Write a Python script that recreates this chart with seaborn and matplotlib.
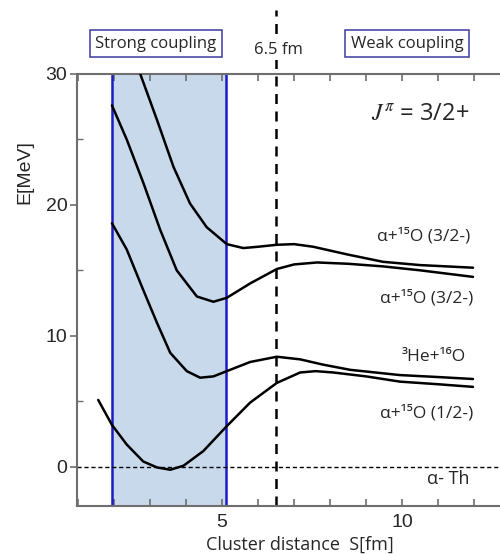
import numpy as np
import pandas as pd
import matplotlib
matplotlib.use("Agg")
import matplotlib.pyplot as plt
import matplotlib.ticker as mticker
import seaborn as sns

# ── data ─────────────────────────────────────────────────────────────────────
s_top = [2.72, 3.19, 3.65, 4.11, 4.57, 5.13, 5.59, 6.0, 6.52, 7.0, 7.53, 8.5, 9.47, 10.5, 11.97]
e_top = [30.05, 26.5, 22.9, 20.1, 18.3, 17.0, 16.7, 16.8, 16.95, 17.0, 16.8, 16.2, 15.65, 15.4, 15.2]

s_mid = [1.94, 2.35, 2.81, 3.28, 3.74, 4.30, 4.76, 5.13, 5.78, 6.52, 7.0, 7.64, 8.5, 9.47, 10.5, 11.97]
e_mid = [27.6, 25.0, 21.7, 18.1, 15.0, 13.0, 12.6, 12.9, 14.0, 15.1, 15.45, 15.6, 15.5, 15.3, 15.0, 14.5]

s_he = [1.94, 2.35, 2.81, 3.19, 3.56, 4.02, 4.39, 4.76, 5.13, 5.78, 6.52, 7.17, 7.8, 8.56, 9.94, 11.0, 11.97]
e_he = [18.6, 16.6, 13.5, 11.0, 8.7, 7.3, 6.8, 6.9, 7.3, 8.0, 8.4, 8.2, 7.8, 7.4, 7.0, 6.85, 6.7]

s_alp = [1.56, 1.94, 2.35, 2.81, 3.19, 3.56, 3.93, 4.48, 5.13, 5.78, 6.52, 7.17, 7.6, 8.08, 9.0, 9.94, 11.0, 11.97]
e_alp = [5.1, 3.2, 1.7, 0.4, -0.05, -0.23, 0.08, 1.2, 3.1, 4.9, 6.4, 7.2, 7.3, 7.2, 6.9, 6.5, 6.3, 6.1]

curves = [(s_top, e_top), (s_mid, e_mid), (s_he, e_he), (s_alp, e_alp)]
labels = ["α+¹⁵O (3/2-)", "α+¹⁵O (3/2-)", "³He+¹⁶O", "α+¹⁵O (1/2-)"]
label_x = [9.3, 9.4, 10.0, 9.4]
label_y = [17.6, 12.9, 8.4, 4.1]

strong_band = (1.94, 5.12)
s_critical = 6.5

sns.set_style("ticks")
plt.rcParams["font.family"] = ["Liberation Sans", "DejaVu Sans"]
plt.rcParams["mathtext.fontset"] = "stix"
TXT = ["Open Sans", "DejaVu Sans"]
AX_GREY = "#6e6e6e"

fig = plt.figure(figsize=(5, 5.54), dpi=100)
ax = fig.add_axes([0.154, 0.0866, 0.846, 0.78])

# strong coupling band
ax.axvspan(*strong_band, color="#c8d9ec", zorder=0)
for xb in strong_band:
    ax.axvline(xb, color="#1c1cc4", linewidth=1.8, zorder=1)

# threshold and critical distance
ax.axhline(0, color="black", linewidth=1.0, linestyle=(0, (3, 2)), zorder=2)
ax.axvline(s_critical, ymin=0, ymax=1.148, color="black", linewidth=1.8,
           linestyle=(0, (4, 3)), clip_on=False, zorder=2)

for s, e in curves:
    sns.lineplot(x=s, y=e, ax=ax, color="black", linewidth=1.8, sort=False, zorder=3)

for lab, lx, ly in zip(labels, label_x, label_y):
    ax.text(lx, ly, lab, fontsize=12.5, family=TXT, va="center", ha="left")
ax.text(10.7, -0.9, "α- Th", fontsize=13, family=TXT, va="center", ha="left", clip_on=False)
ax.text(9.15, 26.9, r"$J^{\pi}$ = 3/2+", fontsize=17, family=TXT, va="center", ha="left")

ax.set_xlim(0.97, 12.72)
ax.set_ylim(-3, 30)
ax.xaxis.set_major_locator(mticker.FixedLocator([5, 10]))
ax.xaxis.set_minor_locator(mticker.MultipleLocator(1))
ax.yaxis.set_major_locator(mticker.MultipleLocator(10))
ax.yaxis.set_minor_locator(mticker.MultipleLocator(5))
ax.tick_params(axis="x", which="both", direction="in", top=True, length=5,
               width=1.2, color=AX_GREY, labelsize=14, pad=6)
ax.tick_params(axis="y", which="major", direction="out", length=5, width=1.2,
               color=AX_GREY, labelsize=14, pad=2)
ax.tick_params(axis="y", which="minor", direction="in", length=4, width=1.0, color=AX_GREY)
for side in ["left", "bottom", "top"]:
    ax.spines[side].set_color(AX_GREY)
    ax.spines[side].set_linewidth(1.5)
ax.spines["right"].set_visible(False)
ax.set_xlabel("")
ax.set_ylabel("")

fig.text(0.05, 1 - 172 / 554, "E[MeV]", rotation=90, fontsize=14, ha="center", va="center")
fig.text(0.60, 0.016, "Cluster distance  S[fm]", fontsize=13, family=TXT, ha="center", va="center")

box = dict(boxstyle="square,pad=0.35", fc="white", ec="#4a4aa8", lw=1.2)
fig.text(156 / 500, 1 - 43.5 / 554, "Strong coupling", fontsize=12, family=TXT,
         ha="center", va="center", bbox=box)
fig.text(407 / 500, 1 - 43.5 / 554, "Weak coupling", fontsize=12, family=TXT,
         ha="center", va="center", bbox=box)
fig.text(278 / 500, 1 - 50 / 554, "6.5 fm", fontsize=12, family=TXT,
         ha="center", va="center", bbox=dict(boxstyle="square,pad=0.1", fc="white", ec="none"))

fig.savefig("out.png", dpi=100)
